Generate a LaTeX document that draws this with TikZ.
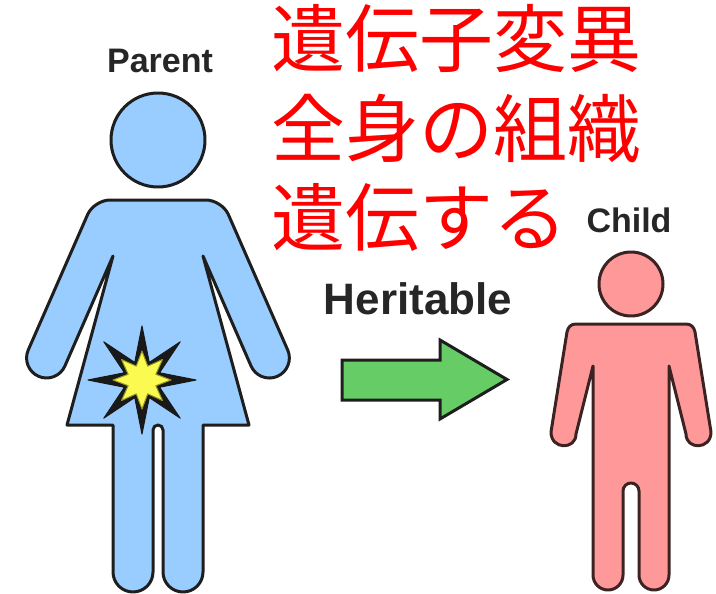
\documentclass[tikz,border=0pt]{standalone}
\usepackage{fontspec}
\setmainfont{Liberation Sans}
\newfontfamily\jpfont{Noto Sans CJK JP}
\begin{document}
\begin{tikzpicture}[x=1pt,y=-1pt,
  figlabel/.style={font=\fontsize{34}{34}\selectfont\bfseries, text=black!85, inner sep=0pt},
  jptext/.style={font=\jpfont\fontsize{74}{74}\selectfont, text=red, inner sep=0pt, anchor=base west},
  parentfig/.style={fill={rgb,255:red,153;green,204;blue,255}, draw={rgb,255:red,30;green,30;blue,30}, line width=3pt, line join=round},
  childfig/.style={fill={rgb,255:red,255;green,153;blue,153}, draw={rgb,255:red,60;green,35;blue,35}, line width=3pt, line join=round},
  burstouter/.style={fill=black!90, draw=black!90, line width=1pt, line join=round},
  burstinner/.style={fill={rgb,255:red,250;green,250;blue,80}, draw={rgb,255:red,150;green,150;blue,40}, line width=1pt, line join=round},
  blockarrow/.style={fill={rgb,255:red,102;green,204;blue,102}, draw={rgb,255:red,30;green,30;blue,30}, line width=3pt, line join=miter}
]
\useasboundingbox[fill=white] (0,0) rectangle (716,594);

% headline in red
\node[jptext] (jp1) at (271,67) {遺伝子変異};
\node[jptext] (jp2) at (271,157) {全身の組織};
\node[jptext] (jp3) at (271,245) {遺伝する};

% labels
\node[figlabel, anchor=base] (parentlbl) at (160,73) {Parent};
\node[figlabel, anchor=base] (childlbl) at (629,232) {Child};
\node[figlabel, font=\fontsize{44}{44}\selectfont\bfseries, anchor=base] (heritlbl) at (418,314) {Heritable};

% parent: head and body
\draw[parentfig] (158,140) circle[radius=47];
\draw[parentfig] (110,200) -- (206,200)
  .. controls (214.8,200) and (224.9,206.5) .. (228.4,214.6)
  -- (287.7,350) arc[start angle=-23.6, end angle=156.4, radius=20]
  -- (203,256) -- (249,425) -- (203,425)
  -- (203,572) arc[start angle=0, end angle=180, radius=20]
  -- (163,430) arc[start angle=0, end angle=-180, radius=5]
  -- (153,572) arc[start angle=0, end angle=180, radius=20]
  -- (113,425) -- (67,425) -- (113,256)
  -- (64.9,366) arc[start angle=23.6, end angle=203.6, radius=20]
  -- (87.6,214.6) .. controls (91.1,206.5) and (101.2,200) .. (110,200) -- cycle;

% mutation burst: black star with a yellow core
\fill[burstouter, shift={(142,380)}] (0:54)
  \foreach \k in {0,...,7} { -- ({\k*45+22.5}:19) -- ({\k*45+45}:54) } -- cycle;
\filldraw[burstinner, shift={(142,380)}] (0:29)
  \foreach \k in {0,...,7} { -- ({\k*45+22.5}:15) -- ({\k*45+45}:29) } -- cycle;

% arrow
\draw[blockarrow] (342,360) -- (440,360) -- (440,340) -- (507,379.5)
  -- (440,419) -- (440,400) -- (342,400) -- cycle;

% child: head and body
\draw[childfig] (631,284) circle[radius=32];
\draw[childfig] (576,324) -- (686,324)
  .. controls (691,324) and (694,327) .. (695,332)
  -- (711,432) .. controls (711,450) and (686,450) .. (686,434)
  -- (669,366)
  -- (669,575) arc[start angle=0, end angle=180, radius=15]
  -- (639,491) arc[start angle=0, end angle=-180, radius=8]
  -- (623,575) arc[start angle=0, end angle=180, radius=15]
  -- (593,366)
  -- (576,434) .. controls (576,450) and (551,450) .. (551,432)
  -- (567,332) .. controls (568,327) and (571,324) .. (576,324) -- cycle;
\end{tikzpicture}
\end{document}
